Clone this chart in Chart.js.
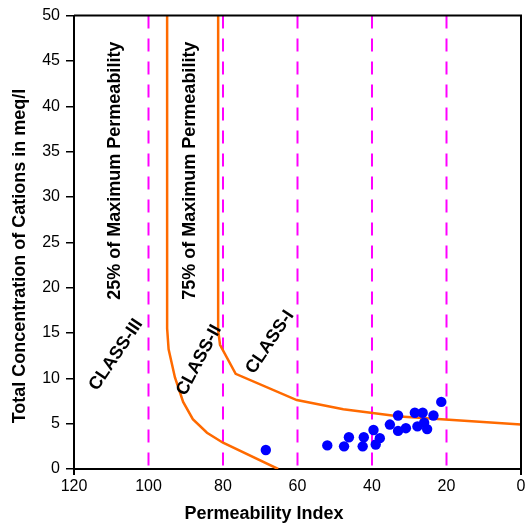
<!DOCTYPE html>
<html>
<head>
<meta charset="utf-8">
<script src="https://cdn.jsdelivr.net/npm/chart.js@4.4.1/dist/chart.umd.min.js"></script>
<style>
  html, body { margin: 0; padding: 0; background: #fff; }
  #wrap { width: 528px; height: 524px; }
</style>
</head>
<body>
<div id="wrap"><canvas id="chart"></canvas></div>
<script>
// data
const xMin = 0;
const xMax = 120;
const yMin = 0;
const yMax = 50;

// class boundaries (dashed lines)
const boundaryX = [100, 80, 60, 40, 20];

// 25% of maximum permeability curve
const curve25X = [95, 95, 94.6, 92.9, 90.7, 88.1, 84.3, 80, 65.2];
const curve25Y = [50, 15.5, 13.2, 10.1, 7.4, 5.5, 4.0, 2.9, 0];

// 75% of maximum permeability curve
const curve75X = [81.3, 81.3, 80.8, 76.6, 60.2, 47.7, 32.5, 0];
const curve75Y = [50, 15.3, 13.7, 10.5, 7.6, 6.6, 5.8, 4.9];

// samples
const sampleX = [68.5, 52, 47.5, 46.2, 42.5, 42.2, 39.6, 39, 37.9, 35.2, 33, 33, 30.9, 28.5, 26.4, 27.8, 26, 25.2, 23.5, 21.4];
const sampleY = [2.1, 2.6, 2.5, 3.5, 2.5, 3.5, 4.3, 2.7, 3.4, 4.9, 5.9, 4.2, 4.5, 6.2, 6.2, 4.7, 5.1, 4.4, 5.9, 7.4];

const FONT = "'Liberation Sans', Arial, sans-serif";
const toPts = (xs, ys) => xs.map((x, i) => ({ x: x, y: ys[i] }));

// dashed boundary datasets
const boundarySets = boundaryX.map((bx) => ({
  data: [{ x: bx, y: yMax }, { x: bx, y: yMin }],
  showLine: true,
  borderColor: "#ff00ff",
  borderWidth: 2,
  borderDash: [13, 10],
  pointRadius: 0,
  order: 3,
}));

// text on the plot (label, x, y, angle in degrees)
const plotLabels = [
  ["25% of Maximum Permeability", 109, 32.9, -90],
  ["75% of Maximum Permeability", 88.9, 32.9, -90],
  ["CLASS-III", 108.7, 12.6, -56],
  ["CLASS-II", 86.4, 12.0, -62],
  ["CLASS-I", 67.4, 14, -56],
];

const framePlugin = {
  id: "frame",
  afterDraw(chart) {
    const { ctx, chartArea: a, scales } = chart;
    ctx.save();
    // top and right border
    ctx.strokeStyle = "#000";
    ctx.lineWidth = 2;
    ctx.beginPath();
    ctx.moveTo(a.left, a.top);
    ctx.lineTo(a.right, a.top);
    ctx.lineTo(a.right, a.bottom + 6);
    ctx.stroke();

    // labels inside the plot
    ctx.fillStyle = "#000";
    ctx.font = "bold 18px " + FONT;
    ctx.textAlign = "center";
    ctx.textBaseline = "middle";
    plotLabels.forEach(([txt, lx, ly, ang]) => {
      ctx.save();
      ctx.translate(scales.x.getPixelForValue(lx), scales.y.getPixelForValue(ly));
      ctx.rotate((ang * Math.PI) / 180);
      ctx.fillText(txt, 0, 0);
      ctx.restore();
    });

    // axis titles
    ctx.fillText("Permeability Index", 264, 514);
    ctx.save();
    ctx.translate(20, 256);
    ctx.rotate(-Math.PI / 2);
    ctx.fillText("Total Concentration of Cations in meq/l", 0, 0);
    ctx.restore();
    ctx.restore();
  },
};

new Chart(document.getElementById("chart"), {
  type: "scatter",
  data: {
    datasets: [
      ...boundarySets,
      {
        data: toPts(curve25X, curve25Y),
        showLine: true,
        borderColor: "#ff6a00",
        borderWidth: 2.5,
        pointRadius: 0,
        tension: 0,
        order: 2,
      },
      {
        data: toPts(curve75X, curve75Y),
        showLine: true,
        borderColor: "#ff6a00",
        borderWidth: 2.5,
        pointRadius: 0,
        tension: 0,
        order: 2,
      },
      {
        data: toPts(sampleX, sampleY),
        backgroundColor: "#0000ff",
        borderWidth: 0,
        pointRadius: 5.2,
        order: 1,
      },
    ],
  },
  options: {
    responsive: true,
    maintainAspectRatio: false,
    animation: false,
    devicePixelRatio: 1,
    layout: { padding: { top: 15, right: 7, left: 0, bottom: 0 } },
    plugins: {
      legend: { display: false },
      tooltip: { enabled: false },
    },
    scales: {
      x: {
        type: "linear",
        reverse: true,
        min: xMin,
        max: xMax,
        afterFit: (s) => { s.height = 55; },
        ticks: {
          stepSize: 20,
          color: "#000",
          padding: 2,
          font: { family: FONT, size: 16 },
        },
        grid: {
          drawOnChartArea: false,
          tickLength: 6,
          lineWidth: 2,
          color: (c) => (c.index === 0 || c.index === 6 ? "#000" : "rgba(0,0,0,0)"),
        },
        border: { color: "#000", width: 2 },
      },
      y: {
        min: yMin,
        max: yMax,
        afterFit: (s) => { s.width = 74; },
        ticks: {
          stepSize: 5,
          color: "#000",
          padding: 6,
          font: { family: FONT, size: 16 },
        },
        grid: {
          drawOnChartArea: false,
          tickLength: 8,
          lineWidth: 1.5,
          color: "#000",
        },
        border: { color: "#000", width: 2 },
      },
    },
  },
  plugins: [framePlugin],
});
</script>
</body>
</html>
